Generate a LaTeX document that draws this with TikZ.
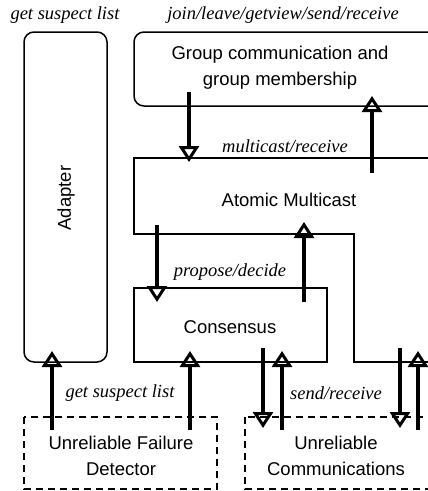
\documentclass[tikz,border=0pt]{standalone}
\usepackage{fontspec}
\setmainfont{Liberation Serif}
\setsansfont{Liberation Sans}
\usetikzlibrary{arrows.meta,positioning}

\begin{document}
\begin{tikzpicture}[x=1pt,y=-1pt,
  box/.style={draw,line width=1.5pt},
  lossy/.style={draw,line width=1.5pt,dash pattern=on 7pt off 5pt},
  layer/.style={font=\sffamily\fontsize{18.5}{26}\selectfont,align=center},
  call/.style={font=\itshape\fontsize{18.5}{20}\selectfont},
  flow/.style={line width=3.2pt,-{Triangle[open,length=16pt,width=20pt,line width=3pt]}}]
\useasboundingbox (0,0) rectangle (428,491);
\clip (0,0) rectangle (428,491);
% Layers
\draw[box,rounded corners=10pt] (24,32) rectangle (107,362);
\draw[box,rounded corners=10pt] (134,32) rectangle (460,106);
\draw[box] (460,158) -- (134,158) -- (134,234) -- (354,234) -- (354,362) -- (460,362);
\draw[box] (134,288) rectangle (327,362);
\draw[lossy] (24,417) rectangle (217,489);
\draw[lossy] (245,417) rectangle (460,489);
% Layer names
\node[layer,rotate=90] (adapter) at (66,198) {Adapter};
\node[layer] (gcs) at (280,68) {Group communication and\\group membership};
\node[layer] (amcast) at (289,200) {Atomic Multicast};
\node[layer] (cons) at (230,327) {Consensus};
\node[layer] (ufd) at (121,456) {Unreliable Failure\\Detector};
\node[layer] (ucomm) at (336,456) {Unreliable\\Communications};
% Interfaces
\node[call] (adapter-if) at (65,15) {get suspect list};
\node[call] (gcs-if) at (283,15) {join/leave/getview/send/receive};
\node[call] (amcast-if) at (285,146) {multicast/receive};
\node[call] (cons-if) at (230,272) {propose/decide};
\node[call] (ufd-if) at (120,393) {get suspect list};
\node[call] (ucomm-if) at (336,393) {send/receive};
% Arrow ends
\coordinate (gcs-down) at (189,92);   \coordinate (amcast-in) at (189,162);
\coordinate (amcast-up) at (372,173); \coordinate (gcs-in) at (372,96);
\coordinate (amcast-down) at (157,225); \coordinate (cons-in) at (157,302);
\coordinate (cons-up) at (304,302);   \coordinate (amcast-in2) at (304,222);
\coordinate (ufd-a) at (52,430);      \coordinate (adapter-in) at (52,351);
\coordinate (ufd-c) at (190,430);     \coordinate (cons-in2) at (190,351);
\coordinate (cons-send) at (263,348); \coordinate (ucomm-in) at (263,428);
\coordinate (ucomm-c) at (282,430);   \coordinate (cons-recv) at (282,351);
\coordinate (amcast-send) at (400,348); \coordinate (ucomm-in2) at (400,428);
\coordinate (ucomm-a) at (418,430);   \coordinate (amcast-recv) at (418,351);
\foreach \from/\to in {gcs-down/amcast-in,amcast-up/gcs-in,amcast-down/cons-in,
  cons-up/amcast-in2,ufd-a/adapter-in,ufd-c/cons-in2,cons-send/ucomm-in,
  ucomm-c/cons-recv,amcast-send/ucomm-in2,ucomm-a/amcast-recv}
  \draw[flow] (\from) -- (\to);
\end{tikzpicture}
\end{document}
